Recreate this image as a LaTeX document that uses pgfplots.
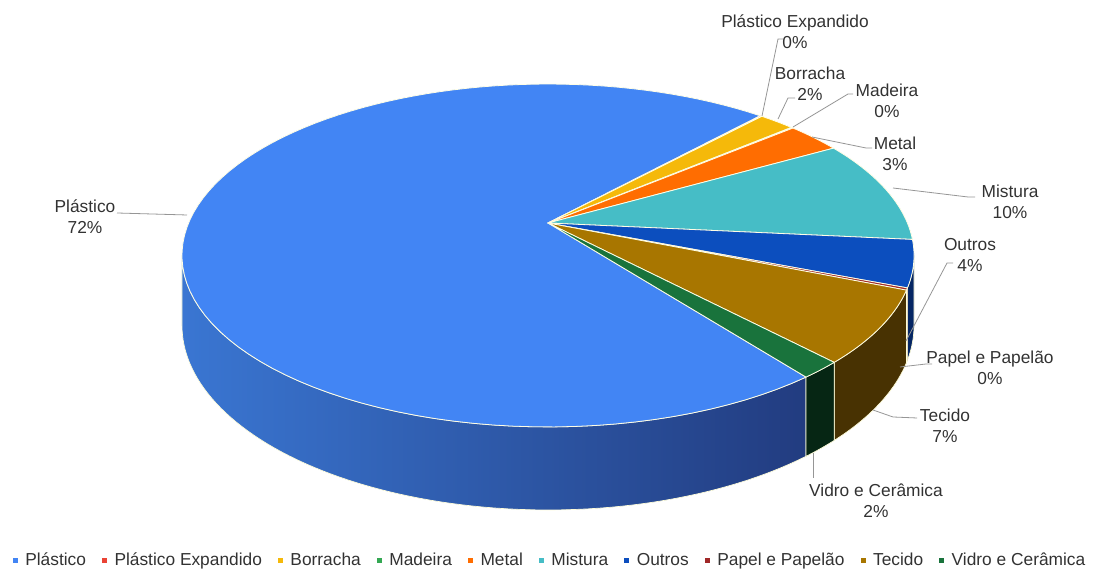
\documentclass[border=0pt]{standalone}
\usepackage{fontspec}
\setmainfont{Liberation Sans}
\usepackage{pgfplots}
\usepackage{pgfplotstable}
\pgfplotsset{compat=1.18}

% top colours
\definecolor{c0}{RGB}{66,133,244}
\definecolor{c1}{RGB}{234,67,53}
\definecolor{c2}{RGB}{245,185,10}
\definecolor{c3}{RGB}{52,168,83}
\definecolor{c4}{RGB}{255,109,1}
\definecolor{c5}{RGB}{70,189,198}
\definecolor{c6}{RGB}{12,78,190}
\definecolor{c7}{RGB}{160,40,40}
\definecolor{c8}{RGB}{168,118,0}
\definecolor{c9}{RGB}{25,115,60}
% side colours
\definecolor{d0l}{RGB}{58,118,210}
\definecolor{d0r}{RGB}{34,60,128}
\definecolor{d1}{RGB}{110,30,25}
\definecolor{d2}{RGB}{120,90,5}
\definecolor{d3}{RGB}{25,80,40}
\definecolor{d4}{RGB}{120,50,0}
\definecolor{d5}{RGB}{30,90,95}
\definecolor{d6}{RGB}{5,38,100}
\definecolor{d7}{RGB}{80,20,20}
\definecolor{d8}{RGB}{72,50,2}
\definecolor{d9}{RGB}{6,38,20}
\definecolor{lab}{RGB}{50,50,50}
\definecolor{ldr}{RGB}{150,150,150}

\pgfplotstableread[col sep=comma]{
name,value
Plastico,72.2
PlasticoExpandido,0.1
Borracha,1.9
Madeira,0.1
Metal,2.9
Mistura,9.8
Outros,4.4
Papel,0.2
Tecido,6.8
Vidro,1.6
}\piedata

% slice angles (clockwise from the start angle), visible side ranges
\xdef\cur{-52.4}
\foreach \i in {0,...,9}{%
  \pgfplotstablegetelem{\i}{value}\of\piedata
  \pgfmathsetmacro\shift{ifthenelse(\cur<-180,360,0)}%
  \pgfmathsetmacro\cura{\cur+\shift}%
  \pgfmathsetmacro\nxt{\cura-3.6*\pgfplotsretval}%
  \pgfmathsetmacro\lo{max(\nxt,-169.08)}%
  \pgfmathsetmacro\hi{min(\cura,-10.92)}%
  \pgfmathtruncatemacro\vis{ifthenelse(\lo<\hi,1,0)}%
  \expandafter\xdef\csname s\i\endcsname{\cura}%
  \expandafter\xdef\csname e\i\endcsname{\nxt}%
  \expandafter\xdef\csname lo\i\endcsname{\lo}%
  \expandafter\xdef\csname hi\i\endcsname{\hi}%
  \expandafter\xdef\csname v\i\endcsname{\vis}%
  \xdef\cur{\nxt}%
}

\tikzset{
  side0/.style={left color=d0l,right color=d0r},
  side1/.style={fill=d1}, side2/.style={fill=d2}, side3/.style={fill=d3},
  side4/.style={fill=d4}, side5/.style={fill=d5}, side6/.style={fill=d6},
  side7/.style={fill=d7}, side8/.style={fill=d8}, side9/.style={fill=d9},
  lbl/.style={align=center,font=\fontsize{13}{15.75}\selectfont,text=lab,inner sep=0pt},
  ldr/.style={draw=ldr,line width=0.6pt},
}

\begin{document}
\begin{tikzpicture}[declare function={
  kk(\t)=1+0.1895*sin(\t);
  px(\t)=548+359.4*cos(\t)/kk(\t);
  py(\t)=350+165.3*sin(\t)/kk(\t);
  pyb(\t)=py(\t)-67.3/kk(\t);
}]
\begin{axis}[
  width=821.25pt, height=429.75pt, scale only axis,
  xmin=0, xmax=1095, ymin=0, ymax=573,
  hide axis, clip=false,
  legend columns=10, legend cell align=left,
  legend image code/.code={\fill[#1] (0pt,-1.5pt) rectangle (3pt,1.5pt);},
  legend style={draw=none, fill=none, at={(0.5014,0.0227)}, anchor=center,
    font=\fontsize{13}{15}\selectfont, text=lab, inner sep=0pt,
    column sep=0pt, nodes={inner sep=0pt},
    /tikz/every odd column/.append style={column sep=6pt},
    /tikz/every even column/.append style={column sep=12pt}},
]
\path (axis cs:0,0) rectangle (axis cs:1095,573);

% side walls
\pgfplotsinvokeforeach{0,...,9}{%
  \ifnum\csname v#1\endcsname=1
    \edef\tmp{\noexpand\path[side#1, draw=white!85!yellow, line width=0.5pt]
      plot[domain=\csname lo#1\endcsname:\csname hi#1\endcsname, samples=80, variable=\noexpand\t] ({px(\noexpand\t)},{py(\noexpand\t)})
      -- plot[domain=\csname hi#1\endcsname:\csname lo#1\endcsname, samples=80, variable=\noexpand\t] ({px(\noexpand\t)},{pyb(\noexpand\t)})
      -- cycle;}%
    \tmp
  \fi
}
% top faces
\pgfplotsinvokeforeach{0,...,9}{%
  \edef\tmp{\noexpand\fill[c#1, draw=white!90!yellow, line width=0.6pt, line join=round]
    (548,350) -- plot[domain=\csname e#1\endcsname:\csname s#1\endcsname, samples=100, variable=\noexpand\t] ({px(\noexpand\t)},{py(\noexpand\t)}) -- cycle;}%
  \tmp
}

% leader lines
\draw[ldr] (117,360) -- (187,358);
\draw[ldr] (783,534) -- (778,534) -- (762,457);
\draw[ldr] (795,475) -- (788,475) -- (778,454);
\draw[ldr] (853,479) -- (848,479) -- (793,446);
\draw[ldr] (872,425) -- (866,425) -- (812,436);
\draw[ldr] (975,376) -- (968,376) -- (893,385);
\draw[ldr] (953,310) -- (947,310) -- (906,232);
\draw[ldr] (932,209) -- (926,209) -- (900,206);
\draw[ldr] (917,155) -- (893,156) -- (873,163);
\draw[ldr] (813,95) -- (813,120);

% data labels
\node[lbl] at (85,356) {Plástico\\72\%};
\node[lbl] at (795,541) {Plástico Expandido\\0\%};
\node[lbl] at (810,489) {Borracha\\2\%};
\node[lbl] at (887,472.5) {Madeira\\0\%};
\node[lbl] at (895,419.5) {Metal\\3\%};
\node[lbl] at (1010,371.5) {Mistura\\10\%};
\node[lbl] at (970,317.5) {Outros\\4\%};
\node[lbl] at (990,205.5) {Papel e Papelão\\0\%};
\node[lbl] at (945,147.5) {Tecido\\7\%};
\node[lbl] at (876,72) {Vidro e Cerâmica\\2\%};

% legend
\addlegendimage{c0}\addlegendentry{Plástico}
\addlegendimage{c1}\addlegendentry{Plástico Expandido}
\addlegendimage{c2}\addlegendentry{Borracha}
\addlegendimage{c3}\addlegendentry{Madeira}
\addlegendimage{c4}\addlegendentry{Metal}
\addlegendimage{c5}\addlegendentry{Mistura}
\addlegendimage{c6}\addlegendentry{Outros}
\addlegendimage{c7}\addlegendentry{Papel e Papelão}
\addlegendimage{c8}\addlegendentry{Tecido}
\addlegendimage{c9}\addlegendentry{Vidro e Cerâmica}
\end{axis}
\end{tikzpicture}
\end{document}
